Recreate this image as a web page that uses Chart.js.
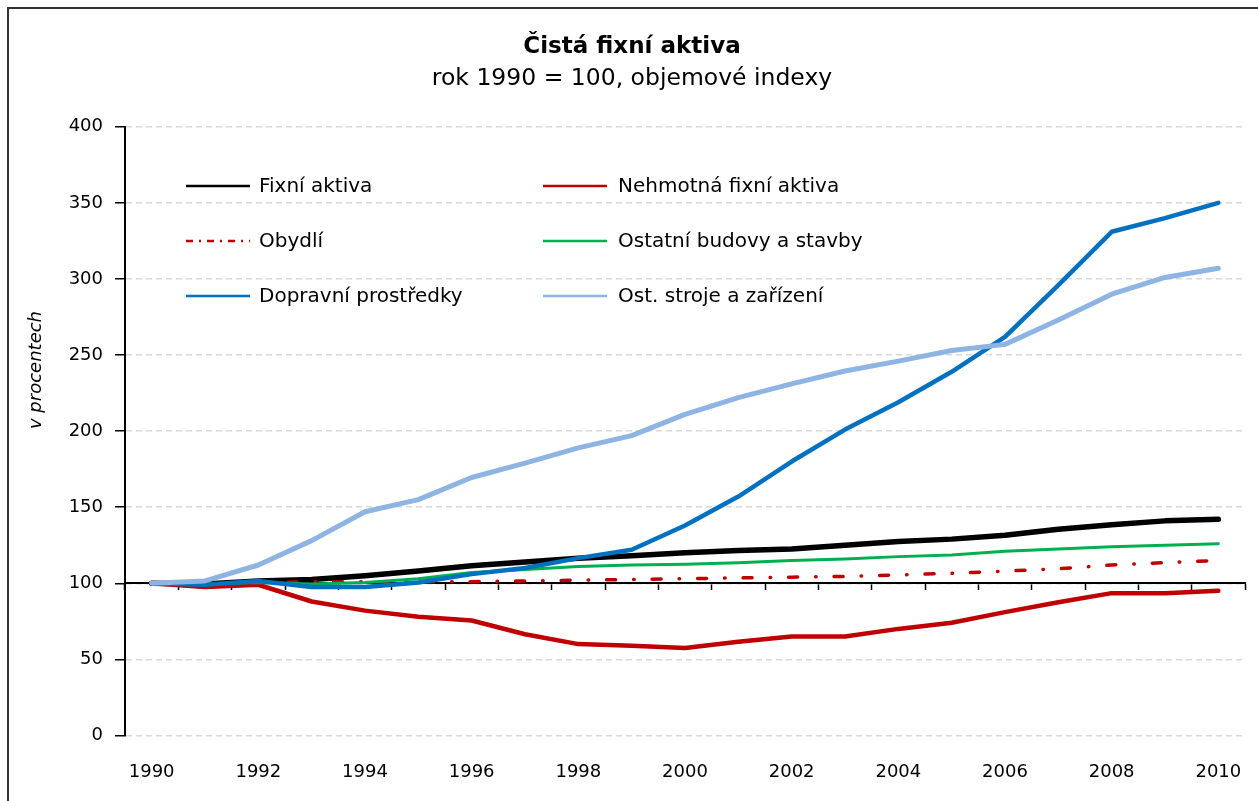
<!DOCTYPE html>
<html>
<head>
<meta charset="utf-8">
<script src="https://cdn.jsdelivr.net/npm/chart.js@4.4.1/dist/chart.umd.min.js"></script>
<style>
  html, body { margin: 0; padding: 0; background: #fff; overflow: hidden; }
  #wrap { position: relative; width: 1258px; height: 801px; }
  #frame { position: absolute; left: 7px; top: 7px; width: 1400px; height: 900px;
           border-top: 2px solid #333; border-left: 2px solid #333; box-sizing: border-box; pointer-events: none; }
  canvas { position: absolute; left: 0; top: 0; }
</style>
</head>
<body>
<div id="wrap">
  <canvas id="c" width="1258" height="801"></canvas>
  <div id="frame"></div>
</div>
<script>
const years = ['1990','1991','1992','1993','1994','1995','1996','1997','1998','1999','2000',
               '2001','2002','2003','2004','2005','2006','2007','2008','2009','2010'];

const fixniAktiva    = [100, 99.5, 101.5, 102.5, 105, 108, 111.5, 114, 116.5, 118, 120, 121.5, 122.5, 125, 127.5, 129, 131.5, 135.5, 138.5, 141, 142];
const nehmotna       = [100, 97.5, 99, 88, 82, 78, 75.5, 66.5, 60, 59, 57.5, 61.5, 65, 65, 70, 74, 81, 87.5, 93.5, 93.5, 95];
const obydli         = [100, 99.5, 100.5, 101, 101, 101, 101, 101.5, 102, 102.5, 103, 103.5, 104, 104.5, 105.5, 106.5, 108, 109.5, 112, 113.5, 115];
const ostatniBudovy  = [100, 99.5, 100.5, 99.5, 100.5, 103, 107, 109, 111, 112, 112.5, 113.5, 115, 116, 117.5, 118.5, 121, 122.5, 124, 125, 126];
const dopravni       = [100, 99, 101.5, 97.5, 97.5, 100.5, 106, 110, 116.5, 122, 138, 157, 180, 201, 219, 239, 262, 296, 331, 340, 350];
const strojeZarizeni = [100, 101.5, 112, 128, 147, 155, 169.5, 179, 189, 197, 211, 222, 231, 239.5, 246, 253, 257, 273, 290, 301, 307];

const seriesNames = ['Fixní aktiva', 'Nehmotná fixní aktiva', 'Obydlí', 'Ostatní budovy a stavby', 'Dopravní prostředky', 'Ost. stroje a zařízení'];
const yTicks = [0, 50, 100, 150, 200, 250, 300, 350, 400];

const FONT = 'DejaVu Sans';

function ds(label, data, color, width, extra) {
  return Object.assign({
    label, data, borderColor: color, backgroundColor: color, borderWidth: width,
    pointRadius: 0, pointHoverRadius: 0, tension: 0, fill: false,
    borderCapStyle: 'round', borderJoinStyle: 'round'
  }, extra || {});
}

const datasets = [
  ds(seriesNames[0], fixniAktiva, '#000000', 5.5, { order: 5 }),
  ds(seriesNames[1], nehmotna, '#c00000', 4.5, { order: 4 }),
  ds(seriesNames[2], obydli, '#c00000', 3.5, { order: 3, borderDash: [9, 18, 0.5, 18] }),
  ds(seriesNames[3], ostatniBudovy, '#00b050', 3, { order: 2 }),
  ds(seriesNames[4], dopravni, '#0070c0', 4.5, { order: 1 }),
  ds(seriesNames[5], strojeZarizeni, '#8db4e2', 5, { order: 0 })
];

const insideLegend = {
  id: 'insideLegend',
  afterDraw(chart) {
    const ctx = chart.ctx;
    const dsets = chart.data.datasets;
    const cols = [{ lx: 186, len: 64, tx: 259 }, { lx: 543, len: 64, tx: 618 }];
    const rows = [186, 241, 296];
    ctx.save();
    ctx.font = '20px "' + FONT + '"';
    ctx.textBaseline = 'middle';
    ctx.textAlign = 'left';
    dsets.forEach((d, i) => {
      const c = cols[i % 2];
      const y = rows[Math.floor(i / 2)];
      ctx.beginPath();
      ctx.strokeStyle = d.borderColor;
      ctx.lineWidth = 2.5;
      ctx.lineCap = 'butt';
      ctx.setLineDash(d.borderDash ? [7, 6, 2, 6] : []);
      ctx.moveTo(c.lx, y);
      ctx.lineTo(c.lx + c.len, y);
      ctx.stroke();
      ctx.setLineDash([]);
      ctx.fillStyle = '#000';
      ctx.fillText(d.label, c.tx, y + 1);
    });
    // y axis title
    ctx.translate(36, 370);
    ctx.rotate(-Math.PI / 2);
    ctx.font = 'italic 18px "' + FONT + '"';
    ctx.textAlign = 'center';
    ctx.fillText('v procentech', 0, 0);
    ctx.restore();
  }
};

new Chart(document.getElementById('c'), {
  type: 'line',
  data: { labels: years, datasets },
  options: {
    responsive: false,
    animation: false,
    devicePixelRatio: 1,
    layout: { padding: { left: 19, right: 13, top: 0, bottom: 15 } },
    plugins: {
      legend: { display: false },
      tooltip: { enabled: false },
      title: {
        display: true, text: 'Čistá fixní aktiva', color: '#000',
        font: { family: FONT, size: 23, weight: 'bold' },
        padding: { top: 33, bottom: 0 }
      },
      subtitle: {
        display: true, text: 'rok 1990 = 100, objemové indexy', color: '#000',
        font: { family: FONT, size: 23.5 },
        padding: { top: 4, bottom: 34 }
      }
    },
    scales: {
      x: {
        type: 'category', position: 'bottom', offset: true,
        grid: { display: false, drawTicks: true, tickLength: 23 },
        border: { display: false },
        ticks: {
          autoSkip: false, maxRotation: 0, minRotation: 0, padding: 3, color: '#000',
          font: { family: FONT, size: 18 },
          callback: (v, i) => (i % 2 === 0 ? years[i] : '')
        }
      },
      x2: {
        type: 'category', position: { y: 100 }, offset: true,
        grid: { drawOnChartArea: false, drawTicks: true, tickLength: 6, offset: true, color: '#000', tickColor: '#000', tickWidth: 1.5 },
        border: { display: true, color: '#000', width: 2 },
        ticks: { display: false }
      },
      y: {
        min: 0, max: 400,
        afterBuildTicks: (s) => { s.ticks = yTicks.map(v => ({ value: v })); },
        afterFit: (s) => { s.width = 106; },
        ticks: { padding: 12, color: '#000', font: { family: FONT, size: 18 } },
        grid: { color: '#d9d9d9', lineWidth: 1.5, tickLength: 10, tickColor: '#000', tickWidth: 1.5 },
        border: { display: true, color: '#000', width: 2, dash: [6, 4] }
      }
    }
  },
  plugins: [insideLegend]
});
</script>
</body>
</html>
